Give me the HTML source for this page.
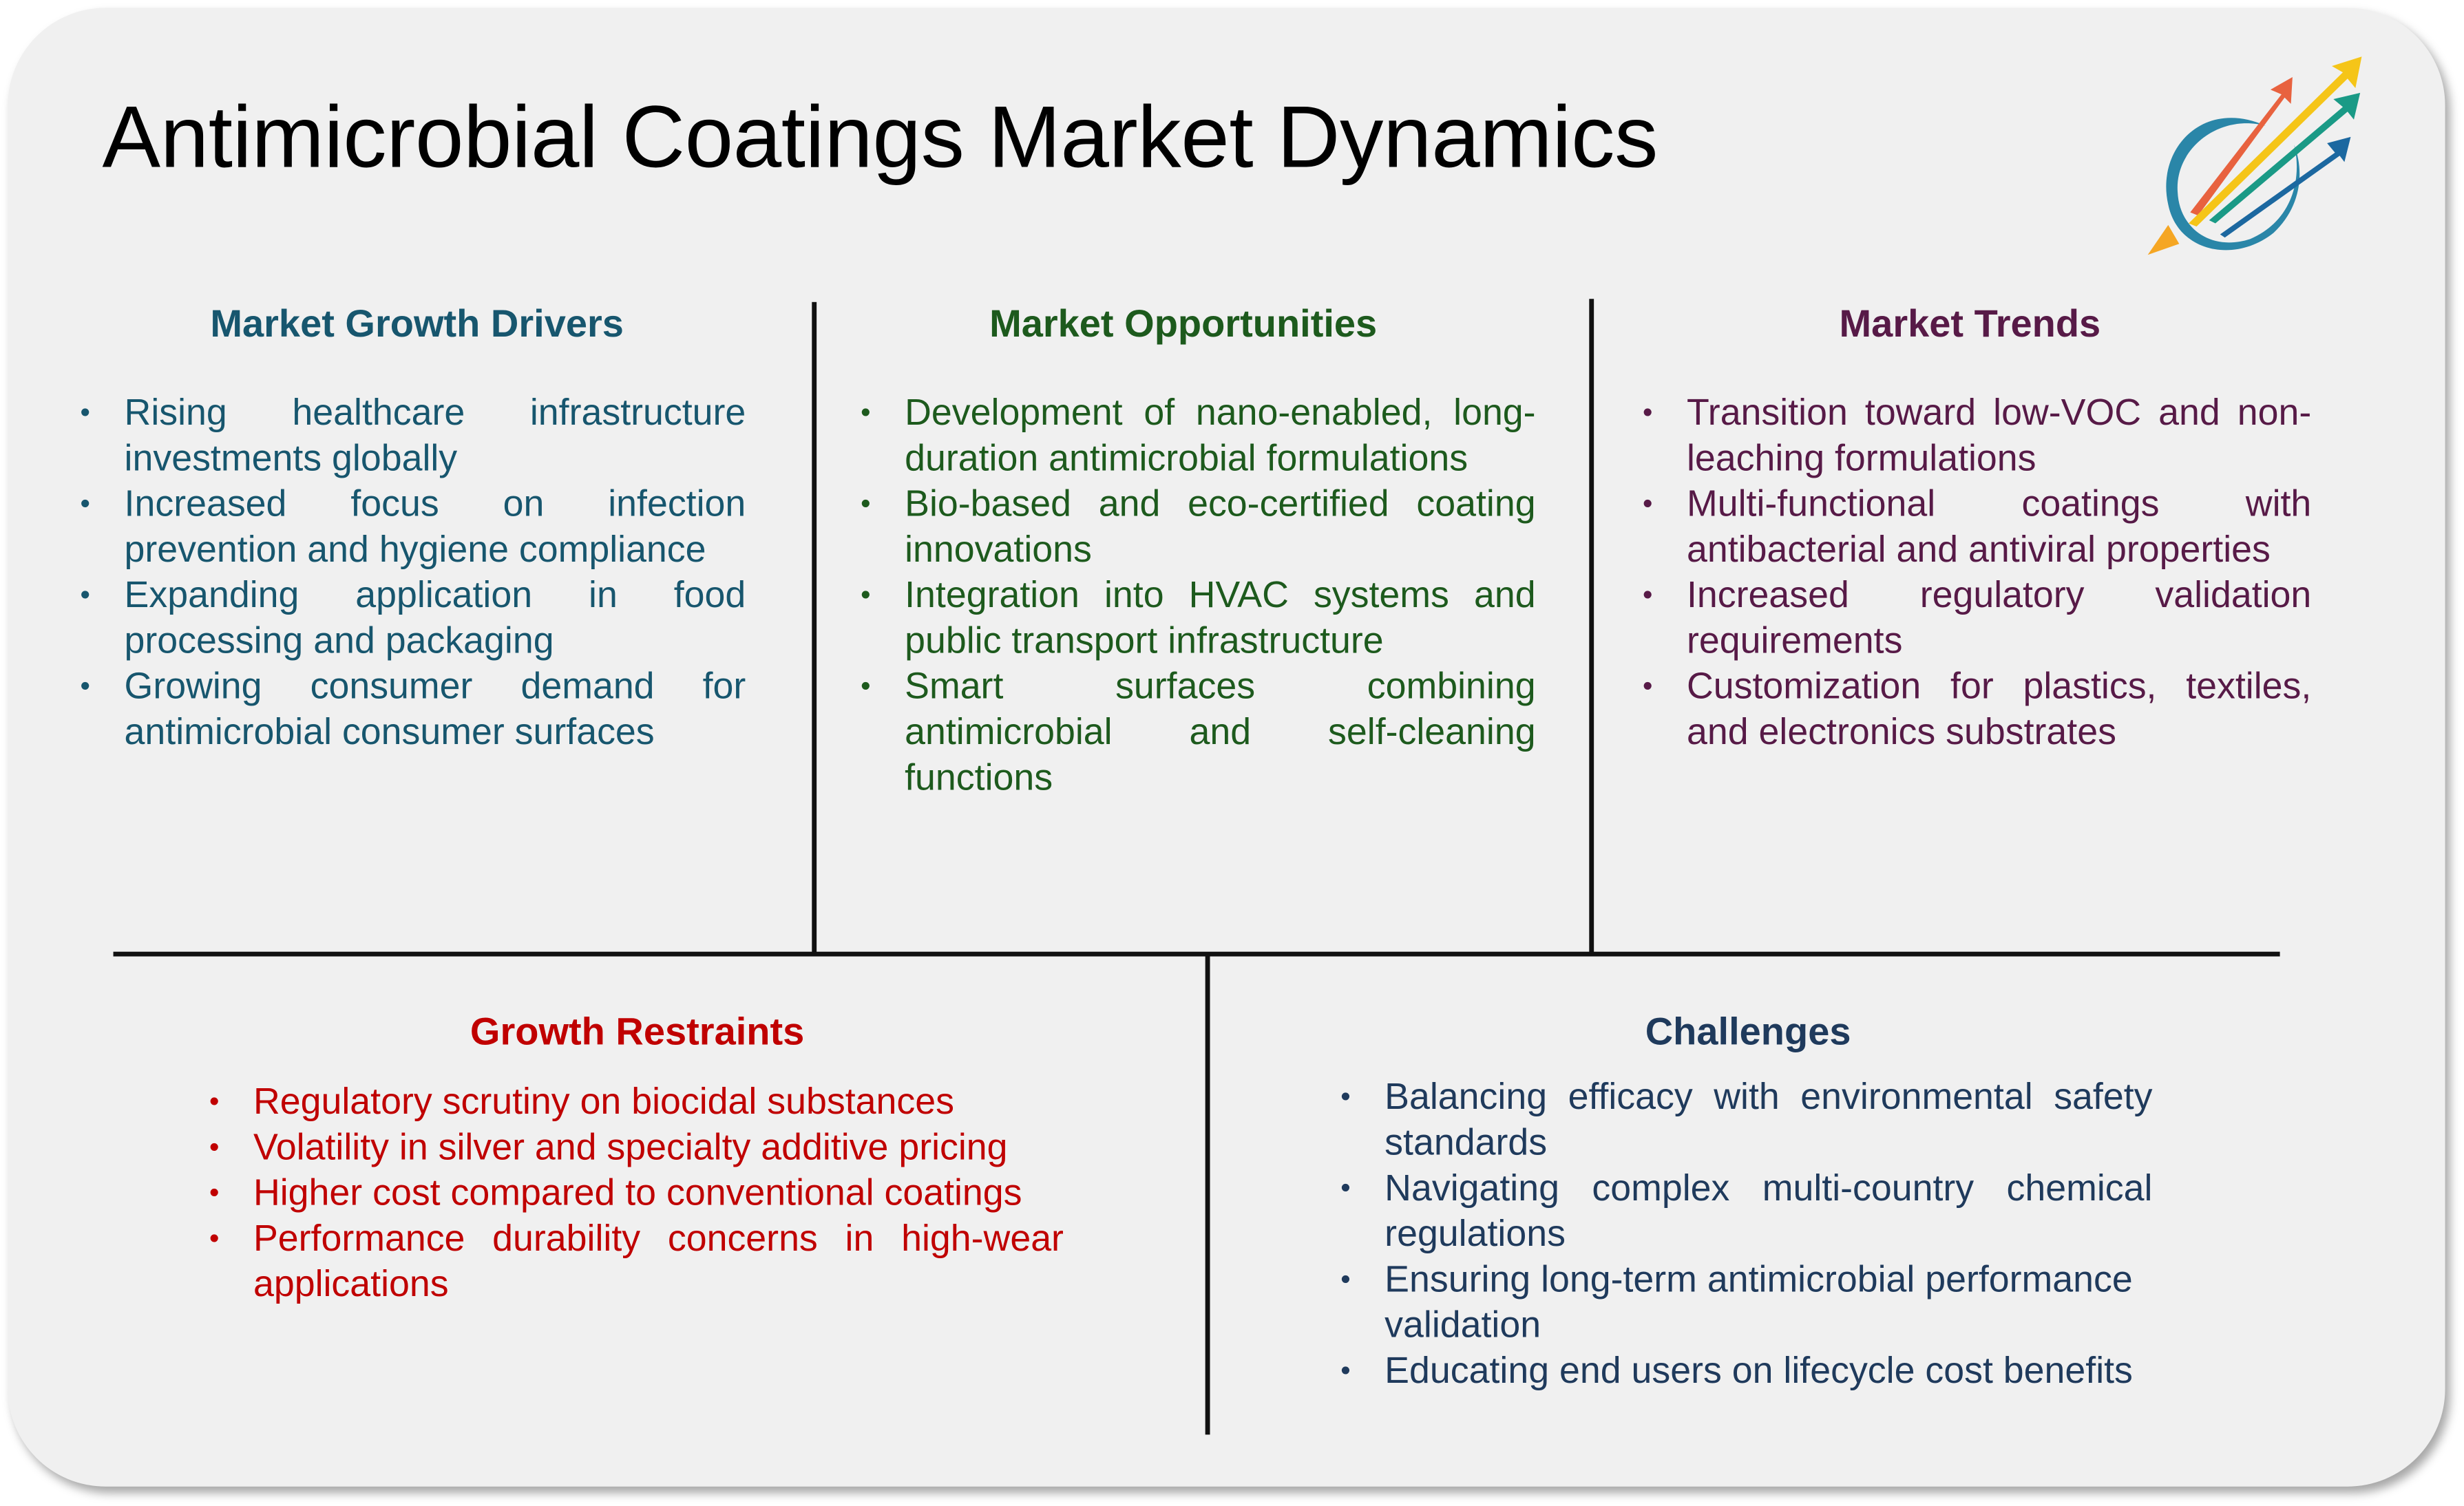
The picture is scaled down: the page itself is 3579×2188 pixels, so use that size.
<!DOCTYPE html>
<html><head><meta charset="utf-8"><style>
html,body{margin:0;padding:0;background:#fff;}
body{width:3579px;height:2188px;overflow:hidden;position:relative;}
#w{position:absolute;left:0;top:0;width:1566px;height:957px;transform:scale(2.28544);transform-origin:0 0;font-family:"Liberation Sans",sans-serif;}
.card{position:absolute;left:5px;top:5px;width:1549px;height:940px;background:#f0f0f0;border-radius:62px;box-shadow:3px 4px 6px rgba(0,0,0,0.35);}
.title{position:absolute;left:65px;top:55px;font-size:55.5px;color:#000;white-space:nowrap;letter-spacing:-0.2px;}
.ln{position:absolute;background:#111;}
.h{position:absolute;font-weight:bold;font-size:24.5px;text-align:center;width:400px;}
.list{position:absolute;font-size:23.5px;line-height:29px;}
.list div{white-space:nowrap;}
.list .j{text-align:justify;text-align-last:justify;white-space:normal;}
.b{position:absolute;font-size:18px;}
</style></head><body><div id="w">
<div class="card"></div>
<div class="title">Antimicrobial Coatings Market Dynamics</div>

<svg style="position:absolute;left:1355px;top:28px" width="160" height="150" viewBox="1355 28 160 150">
<path d="M1440 80 C1400 62 1370 95 1378 130 C1384 160 1420 168 1445 148 C1462 132 1465 110 1458 92 C1463 112 1458 140 1430 152 C1405 160 1385 145 1384 122 C1382 95 1410 72 1440 80 Z" fill="#2a86a8"/>
<polygon points="1365,162 1378,143 1385,155" fill="#f5a623"/>
<polygon points="1392,135 1450,60 1443,57 1457,49 1456,66 1452,62 1397,137" fill="#e8623f"/>
<polygon points="1391,142 1489,46 1482,42 1501,36 1497,56 1492,50 1396,144" fill="#f5c518"/>
<polygon points="1404,140 1489,68 1483,63 1500,59 1496,76 1492,71 1408,142" fill="#1a9a86"/>
<polygon points="1411,149 1484,97 1479,91 1494,87 1490,103 1487,99 1414,151" fill="#1c68a0"/>
</svg>

<div class="ln" style="left:515.5px;top:192px;width:3px;height:415px"></div>
<div class="ln" style="left:1009.5px;top:190px;width:3px;height:417px"></div>
<div class="ln" style="left:72px;top:604.5px;width:1377px;height:3px"></div>
<div class="ln" style="left:765.5px;top:606px;width:3px;height:306px"></div>

<div class="h" style="left:65px;top:193px;color:#17566e">Market Growth Drivers</div>
<div class="h" style="left:552px;top:193px;color:#1d5a1d">Market Opportunities</div>
<div class="h" style="left:1052px;top:193px;color:#571a47">Market Trends</div>
<div class="h" style="left:205px;top:643px;color:#c00000">Growth Restraints</div>
<div class="h" style="left:911px;top:643px;color:#1f3a5c">Challenges</div>

<div class="list" style="left:51px;top:248px;width:423px;color:#17566e">
<span class="b" style="left:0;top:0">•</span><span class="b" style="left:0;top:58px">•</span><span class="b" style="left:0;top:116px">•</span><span class="b" style="left:0;top:174px">•</span>
<div style="margin-left:28px"><div class="j">Rising healthcare infrastructure</div><div>investments globally</div><div class="j">Increased focus on infection</div><div>prevention and hygiene compliance</div><div class="j">Expanding application in food</div><div>processing and packaging</div><div class="j">Growing consumer demand for</div><div>antimicrobial consumer surfaces</div></div>
</div>

<div class="list" style="left:547px;top:248px;width:429px;color:#1d5a1d">
<span class="b" style="left:0;top:0">•</span><span class="b" style="left:0;top:58px">•</span><span class="b" style="left:0;top:116px">•</span><span class="b" style="left:0;top:174px">•</span>
<div style="margin-left:28px"><div class="j">Development of nano-enabled, long-</div><div>duration antimicrobial formulations</div><div class="j">Bio-based and eco-certified coating</div><div>innovations</div><div class="j">Integration into HVAC systems and</div><div>public transport infrastructure</div><div class="j">Smart surfaces combining</div><div class="j">antimicrobial and self-cleaning</div><div>functions</div></div>
</div>

<div class="list" style="left:1044px;top:248px;width:425px;color:#571a47">
<span class="b" style="left:0;top:0">•</span><span class="b" style="left:0;top:58px">•</span><span class="b" style="left:0;top:116px">•</span><span class="b" style="left:0;top:174px">•</span>
<div style="margin-left:28px"><div class="j">Transition toward low-VOC and non-</div><div>leaching formulations</div><div class="j">Multi-functional coatings with</div><div>antibacterial and antiviral properties</div><div class="j">Increased regulatory validation</div><div>requirements</div><div class="j">Customization for plastics, textiles,</div><div>and electronics substrates</div></div>
</div>

<div class="list" style="left:133px;top:686px;width:543px;color:#c00000">
<span class="b" style="left:0;top:0">•</span><span class="b" style="left:0;top:29px">•</span><span class="b" style="left:0;top:58px">•</span><span class="b" style="left:0;top:87px">•</span>
<div style="margin-left:28px"><div>Regulatory scrutiny on biocidal substances</div><div>Volatility in silver and specialty additive pricing</div><div>Higher cost compared to conventional coatings</div><div class="j">Performance durability concerns in high-wear</div><div>applications</div></div>
</div>

<div class="list" style="left:852px;top:683px;width:516px;color:#1f3a5c">
<span class="b" style="left:0;top:0">•</span><span class="b" style="left:0;top:58px">•</span><span class="b" style="left:0;top:116px">•</span><span class="b" style="left:0;top:174px">•</span>
<div style="margin-left:28px"><div class="j">Balancing efficacy with environmental safety</div><div>standards</div><div class="j">Navigating complex multi-country chemical</div><div>regulations</div><div>Ensuring long-term antimicrobial performance</div><div>validation</div><div>Educating end users on lifecycle cost benefits</div></div>
</div>
</div></body></html>
